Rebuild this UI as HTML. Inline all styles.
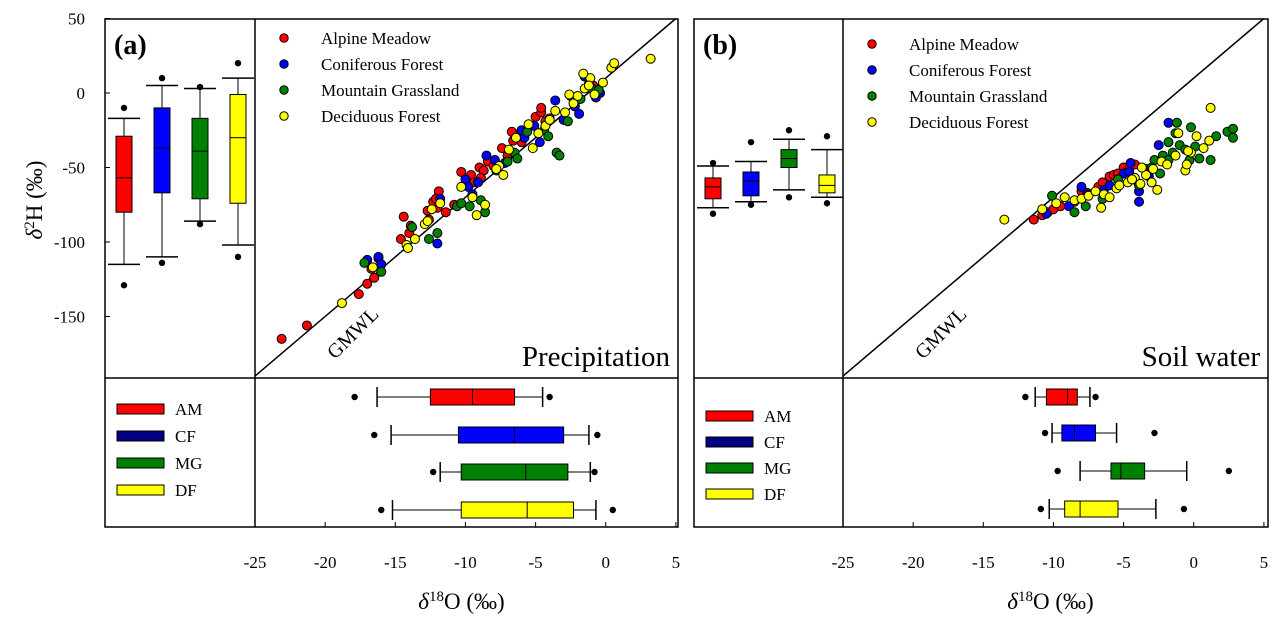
<!DOCTYPE html>
<html><head><meta charset="utf-8"><style>
body{margin:0;background:#fff;}
svg{display:block;font-family:"Liberation Serif",serif;}
</style></head><body>
<svg id="c" width="1282" height="633" viewBox="0 0 1282 633" xmlns="http://www.w3.org/2000/svg"></svg>
<script>
const xTicks=[-25,-20,-15,-10,-5,0,5];
const yTicks=[50,0,-50,-100,-150];
const groups=["AM","CF","MG","DF"];
const groupNames=["Alpine Meadow","Coniferous Forest","Mountain Grassland","Deciduous Forest"];
const colors=["#ff0000","#0000ff","#008000","#ffff00"];
const legendColors=["#ff0000","#000080","#008000","#ffff00"];
// vertical box stats δ2H: [lowOut, lowWhisk, q1, median, q3, highWhisk, highOut]
const precipH=[[-129,-115,-80,-57,-29,-17,-10],[-114,-110,-67,-37,-10,5,10],[-88,-86,-71,-39,-17,3,4],[-110,-102,-74,-30,-1,10,20]];
const soilH=[[-81,-77,-71,-63,-57,-49,-47],[-75,-73,-69,-59,-53,-46,-33],[-70,-65,-50,-44,-38,-31,-25],[-74,-70,-67,-62,-55,-38,-29]];
// horizontal box stats δ18O
const precipO=[[-17.9,-16.3,-12.5,-9.5,-6.5,-4.5,-4.0],[-16.5,-15.3,-10.5,-6.5,-3.0,-1.2,-0.6],[-12.3,-11.8,-10.3,-5.7,-2.7,-1.1,-0.8],[-16.0,-15.2,-10.3,-5.6,-2.3,-0.7,0.5]];
const soilO=[[-12.0,-11.3,-10.5,-9.0,-8.3,-7.4,-7.0],[-10.6,-10.1,-9.4,-8.5,-7.0,-5.5,-2.8],[-9.7,-8.1,-5.9,-5.2,-3.5,-0.5,2.5],[-10.9,-10.3,-9.2,-8.1,-5.4,-2.7,-0.7]];
const precipAM=[[-23.1,-165],[-21.3,-156],[-17.6,-135],[-17.0,-128],[-16.7,-118],[-16.2,-111],[-16.5,-124],[-14.6,-98],[-14.0,-94],[-13.9,-89],[-14.4,-83],[-12.6,-85],[-12.7,-79],[-12.0,-77],[-12.3,-73],[-11.9,-66],[-11.4,-80],[-10.8,-75],[-9.8,-59],[-10.3,-53],[-9.6,-55],[-9.0,-50],[-8.7,-52],[-8.4,-46],[-8.9,-57],[-7.0,-42],[-7.4,-37],[-6.6,-32],[-6.3,-28],[-6.7,-26],[-5.4,-22],[-5.0,-16],[-4.6,-13],[-4.3,-19],[-4.6,-10],[-4.0,-17],[-2.2,-6],[-0.9,5],[-9.4,-60],[-12.1,-71],[-8.0,-49],[-6.0,-33]];
const precipCF=[[-17.0,-112],[-16.2,-110],[-16.0,-115],[-12.0,-101],[-11.8,-71],[-10.0,-58],[-9.8,-63],[-9.5,-68],[-8.5,-42],[-7.9,-45],[-6.0,-25],[-5.8,-30],[-4.7,-33],[-3.6,-5],[-3.0,-18],[-2.2,-9],[-1.5,11],[-1.2,6],[-0.7,-3],[-0.4,0],[-1.9,-14],[-7.2,-47],[-9.1,-60],[-5.1,-22]];
const precipMG=[[-17.2,-114],[-16.0,-120],[-13.8,-90],[-12.6,-98],[-12.0,-94],[-10.6,-76],[-10.3,-74],[-9.7,-76],[-8.9,-72],[-8.6,-80],[-7.0,-46],[-7.8,-52],[-6.5,-40],[-6.3,-44],[-5.6,-26],[-4.4,-25],[-3.5,-40],[-3.3,-42],[-2.7,-19],[-1.8,-4],[-2.5,-2],[-1.0,3],[-4.1,-29],[-0.5,2]];
const precipDF=[[-18.8,-141],[-16.6,-117],[-14.2,-102],[-14.1,-104],[-13.6,-98],[-12.9,-88],[-12.7,-86],[-12.4,-78],[-11.8,-74],[-9.2,-82],[-8.6,-75],[-7.6,-49],[-7.8,-51],[-6.9,-38],[-5.2,-37],[-4.8,-27],[-4.3,-22],[-3.6,-12],[-2.6,-1],[-2.3,-7],[-1.5,3],[-1.1,10],[-1.6,13],[-1.2,5],[-0.8,-1],[0.4,17],[0.6,20],[3.2,23],[-6.4,-30],[-5.5,-21],[-2.9,-13],[-0.2,7],[-7.3,-55],[-4.0,-18],[-2.0,-2],[-9.5,-70],[-10.3,-63]];
const soilAM=[[-11.4,-85],[-10.8,-82],[-10.4,-80],[-10.0,-78],[-9.5,-76],[-8.5,-73],[-8.0,-66],[-7.6,-67],[-6.8,-63],[-6.0,-56],[-5.7,-55],[-5.0,-50],[-4.6,-51],[-4.2,-48],[-5.4,-54],[-6.5,-60]];
const soilCF=[[-10.5,-81],[-8.9,-76],[-8.0,-63],[-7.6,-68],[-6.4,-65],[-6.0,-62],[-5.0,-54],[-4.5,-47],[-4.3,-58],[-3.9,-66],[-3.9,-73],[-3.2,-56],[-2.5,-35],[-1.8,-20],[-4.6,-53]];
const soilMG=[[-10.1,-69],[-8.5,-80],[-7.7,-76],[-6.5,-71],[-5.4,-58],[-3.9,-62],[-3.4,-51],[-2.8,-45],[-2.2,-42],[-1.8,-45],[-1.0,-35],[-1.8,-33],[-1.3,-27],[-0.6,-38],[-0.3,-45],[0.1,-36],[1.2,-45],[-0.2,-23],[-1.2,-20],[2.4,-26],[2.8,-24],[2.8,-30],[1.6,-29],[-2.4,-54],[0.4,-44],[-3.0,-50],[-1.5,-40]];
const soilDF=[[-13.5,-85],[-10.8,-78],[-9.8,-74],[-9.2,-70],[-8.5,-72],[-8.0,-71],[-7.5,-69],[-7.0,-66],[-6.4,-68],[-6.0,-70],[-5.5,-64],[-5.3,-62],[-4.7,-60],[-4.2,-57],[-3.8,-61],[-3.4,-55],[-2.9,-51],[-2.3,-46],[-1.9,-48],[-1.3,-42],[-0.6,-52],[-0.5,-48],[-0.2,-40],[0.7,-37],[1.1,-32],[0.2,-29],[1.2,-10],[-1.1,-27],[-0.4,-39],[-3.0,-60],[-2.6,-65],[-6.6,-77],[-4.4,-58],[-3.7,-50]];

const svg=document.getElementById('c');
const NS="http://www.w3.org/2000/svg";
function el(tag,attrs,parent,text){const e=document.createElementNS(NS,tag);for(const k in attrs)e.setAttribute(k,attrs[k]);if(text!==undefined)e.textContent=text;(parent||svg).appendChild(e);return e;}
const yOf=v=>93-v*1.49;
const TOP=19,MID=378,BOT=527;

function panel(P){
  const g=el('g',{});
  
  
  const xOf=v=>P.div+(v+25)*14.03;
  el('rect',{x:P.left,y:TOP,width:P.right-P.left,height:BOT-TOP,fill:'none',stroke:'#000','stroke-width':1.5},g);
  el('line',{x1:P.div,y1:TOP,x2:P.div,y2:BOT,stroke:'#000','stroke-width':1.5},g);
  el('line',{x1:P.left,y1:MID,x2:P.right,y2:MID,stroke:'#000','stroke-width':1.5},g);
  const gm=el('line',{x1:xOf(-25),y1:yOf(8*-25+10),x2:xOf(5),y2:yOf(8*5+10),stroke:'#000','stroke-width':1.5},g);
  
  const gt=el('text',{x:0,y:0,'font-size':20,transform:`translate(${P.div+80},${MID-18}) rotate(-45)`},g,'GMWL');
  
  xTicks.forEach(t=>{
    el('line',{x1:xOf(t),y1:BOT,x2:xOf(t),y2:BOT-5,stroke:'#000'},g);
    const tl=el('text',{x:xOf(t),y:BOT+41,'font-size':17,'text-anchor':'middle'},g,String(t));
    
  });
  if(P.yaxis){
    yTicks.forEach(t=>{
      el('line',{x1:P.left,y1:yOf(t),x2:P.left+5,y2:yOf(t),stroke:'#000'},g);
      const tl=el('text',{x:P.left-20,y:yOf(t)+6,'font-size':17,'text-anchor':'end'},g,String(t));
      
    });
  }
  const lab=el('text',{x:P.left+9,y:54,'font-size':28,'font-weight':'bold'},g,P.label);
  
  const ti=el('text',{x:P.right-8,y:366,'font-size':29,'text-anchor':'end'},g,P.title);
  
  const xt=el('text',{x:(P.div+P.right)/2-5,y:609,'font-size':23,'text-anchor':'middle'},g);
  
  el('tspan',{'font-style':'italic'},xt,'δ');el('tspan',{'font-size':15,dy:-8},xt,'18');el('tspan',{dy:8},xt,'O (‰)');
  P.boxH.forEach((s,i)=>{
    const cx=P.boxX0+i*P.boxDX;
    const bg=el('g',{},g);
    
    
    el('line',{x1:cx,y1:yOf(s[1]),x2:cx,y2:yOf(s[5]),stroke:'#000'},bg);
    el('line',{x1:cx-16,y1:yOf(s[1]),x2:cx+16,y2:yOf(s[1]),stroke:'#000','stroke-width':1.5},bg);
    el('line',{x1:cx-16,y1:yOf(s[5]),x2:cx+16,y2:yOf(s[5]),stroke:'#000','stroke-width':1.5},bg);
    el('rect',{x:cx-8,y:yOf(s[4]),width:16,height:yOf(s[2])-yOf(s[4]),fill:colors[i],stroke:'#000'},bg);
    el('line',{x1:cx-8,y1:yOf(s[3]),x2:cx+8,y2:yOf(s[3]),stroke:'#000'},bg);
    el('circle',{cx:cx,cy:yOf(s[0]),r:3.2,fill:'#000'},bg);
    el('circle',{cx:cx,cy:yOf(s[6]),r:3.2,fill:'#000'},bg);
  });
  P.boxO.forEach((s,i)=>{
    const cy=P.rowY[i];
    const bg=el('g',{},g);
    
    
    el('line',{x1:xOf(s[1]),y1:cy,x2:xOf(s[5]),y2:cy,stroke:'#000'},bg);
    el('line',{x1:xOf(s[1]),y1:cy-10,x2:xOf(s[1]),y2:cy+10,stroke:'#000','stroke-width':1.5},bg);
    el('line',{x1:xOf(s[5]),y1:cy-10,x2:xOf(s[5]),y2:cy+10,stroke:'#000','stroke-width':1.5},bg);
    el('rect',{x:xOf(s[2]),y:cy-8,width:xOf(s[4])-xOf(s[2]),height:16,fill:colors[i],stroke:'#000'},bg);
    el('line',{x1:xOf(s[3]),y1:cy-8,x2:xOf(s[3]),y2:cy+8,stroke:'#000'},bg);
    el('circle',{cx:xOf(s[0]),cy:cy,r:3.2,fill:'#000'},bg);
    el('circle',{cx:xOf(s[6]),cy:cy,r:3.2,fill:'#000'},bg);
  });
  groups.forEach((gname,i)=>{
    const ly=P.legY0+i*P.legDY;
    const lg=el('g',{},g);
    
    
    el('rect',{x:P.left+12,y:ly-5,width:47,height:10,fill:legendColors[i],stroke:'#000'},lg);
    el('text',{x:P.left+70,y:ly+6,'font-size':17},lg,gname);
  });
  P.series.forEach((pts,i)=>{
    const sg=el('g',{},g);
    
    
    pts.forEach(p=>{
      const c=el('circle',{cx:xOf(p[0]),cy:yOf(p[1]),r:4.5,fill:colors[i],stroke:'#000','stroke-width':1},sg);
      
      
    });
  });
  groupNames.forEach((n,i)=>{
    const ly=P.tlegY0+i*26;
    const lg=el('g',{},g);
    
    
    el('circle',{cx:P.div+29,cy:ly,r:4.2,fill:colors[i],stroke:'#000'},lg);
    el('text',{x:P.div+66,y:ly+6,'font-size':17},lg,n);
  });
}
panel({name:'panel-a-precipitation',left:105,div:255,right:678,label:'(a)',title:'Precipitation',yaxis:true,
  boxH:precipH,boxO:precipO,boxX0:124,boxDX:38,rowY:[397,435,472,510],legY0:409,legDY:27,tlegY0:38,
  series:[precipAM,precipCF,precipMG,precipDF]});
panel({name:'panel-b-soil-water',left:694,div:843,right:1268,label:'(b)',title:'Soil water',yaxis:false,
  boxH:soilH,boxO:soilO,boxX0:713,boxDX:38,rowY:[397,433,471,509],legY0:416,legDY:26,tlegY0:44,
  series:[soilAM,soilCF,soilMG,soilDF]});
const yt=el('text',{x:0,y:0,'font-size':23,'text-anchor':'middle',transform:'translate(42,200) rotate(-90)'});


el('tspan',{'font-style':'italic'},yt,'δ');el('tspan',{'font-size':15,dy:-8},yt,'2');el('tspan',{dy:8},yt,'H (‰)');
</script>
</body></html>
